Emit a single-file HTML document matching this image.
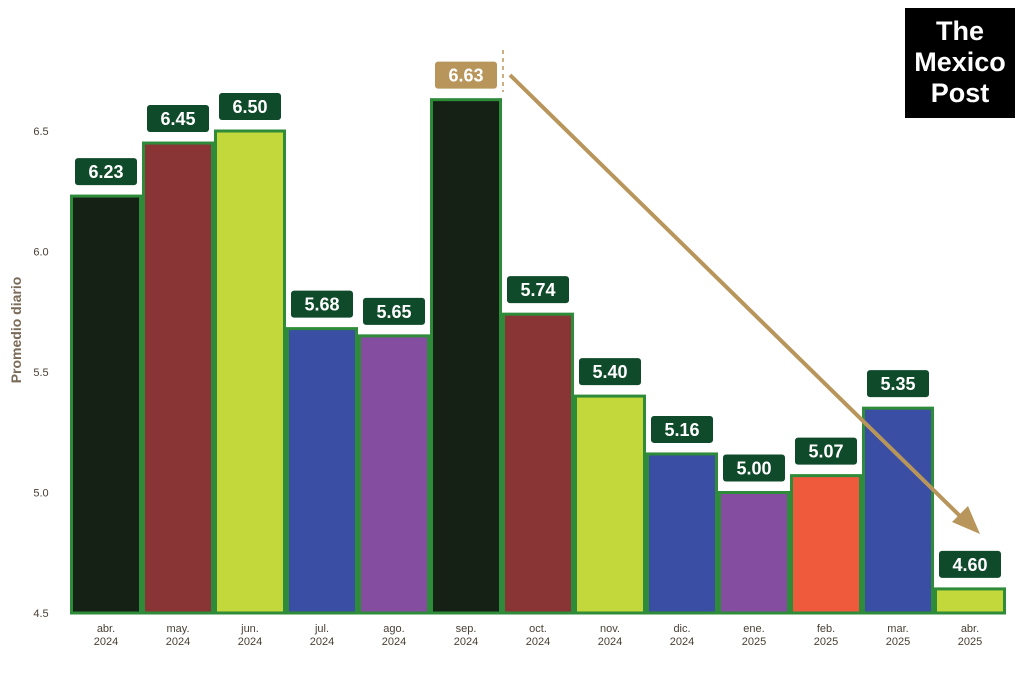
<!DOCTYPE html>
<html><head><meta charset="utf-8"><style>
html,body{margin:0;padding:0;background:#fff;}
svg{display:block;}
text{font-family:"Liberation Sans",sans-serif;}
</style></head><body>
<svg width="1024" height="684" viewBox="0 0 1024 684" id="chart">
<g id="yaxis"></g><g id="bars"></g><g id="xlabels"></g><g id="vlabels"></g>
<line x1="503" y1="50" x2="503" y2="92" stroke="#b8955a" stroke-width="1.5" stroke-dasharray="4,4"/>
<line x1="510" y1="75" x2="962" y2="518" stroke="#b8955a" stroke-width="4"/>
<polygon points="980,534 952,522 968,506" fill="#b8955a"/>
<text x="21" y="330" transform="rotate(-90 21 330)" text-anchor="middle" font-size="14" font-weight="bold" fill="#7a6a58">Promedio diario</text>
<g>
<rect x="905" y="8" width="110" height="110" fill="#000"/>
<text x="960" y="40" text-anchor="middle" font-family="Liberation Serif,serif" font-size="27" font-weight="bold" fill="#fff">The</text>
<text x="960" y="71" text-anchor="middle" font-family="Liberation Serif,serif" font-size="27" font-weight="bold" fill="#fff">Mexico</text>
<text x="960" y="102" text-anchor="middle" font-family="Liberation Serif,serif" font-size="27" font-weight="bold" fill="#fff">Post</text>
</g>
</svg>
<script>
const months=["abr.","may.","jun.","jul.","ago.","sep.","oct.","nov.","dic.","ene.","feb.","mar.","abr."];
const years=["2024","2024","2024","2024","2024","2024","2024","2024","2024","2025","2025","2025","2025"];
const values=[6.23,6.45,6.50,5.68,5.65,6.63,5.74,5.40,5.16,5.00,5.07,5.35,4.60];
const colors=["#142114","#8a3535","#c3d83a","#3a4fa3","#844da0","#142114","#8a3535","#c3d83a","#3a4fa3","#844da0","#ef5a3c","#3a4fa3","#c3d83a"];
const ticks=[4.5,5.0,5.5,6.0,6.5];
const NS="http://www.w3.org/2000/svg";
const y=v=>613-(v-4.5)*241;
const step=72, x0=70;
const x=i=>x0+i*step;
function mk(t,a,p){const e=document.createElementNS(NS,t);for(const k in a)e.setAttribute(k,a[k]);p.appendChild(e);return e;}
const ya=document.getElementById('yaxis');
ticks.forEach(t=>{const e=mk('text',{x:41,y:y(t)+4,'font-size':11,fill:'#4a4035','text-anchor':'middle'},ya);e.textContent=t.toFixed(1);

});
const bg=document.getElementById('bars'),xl=document.getElementById('xlabels'),vl=document.getElementById('vlabels');
values.forEach((v,i)=>{
 const r=mk('rect',{x:x(i)+1.5,y:y(v),width:step-3,height:613-y(v),fill:colors[i],stroke:'#2e8b3a','stroke-width':3},bg);
 
 
 const cx=x(i)+step/2;
 const t1=mk('text',{x:cx,y:632,'font-size':11,fill:'#4a4035','text-anchor':'middle'},xl);t1.textContent=months[i];
 
 
 const t2=mk('text',{x:cx,y:645,'font-size':11,fill:'#4a4035','text-anchor':'middle'},xl);t2.textContent=years[i];
 
 
 const peak=v===Math.max(...values);
 const by=y(v)-38, bx=cx-31;
 const b=mk('rect',{x:bx,y:by,width:62,height:27,rx:3,fill:peak?'#b8955a':'#0f4a2a'},vl);
 
 
 const vt=mk('text',{x:bx+31,y:by+20,'font-size':18,'font-weight':'bold',fill:'#fff','text-anchor':'middle'},vl);vt.textContent=v.toFixed(2);
 
 
});
</script>
</body></html>
